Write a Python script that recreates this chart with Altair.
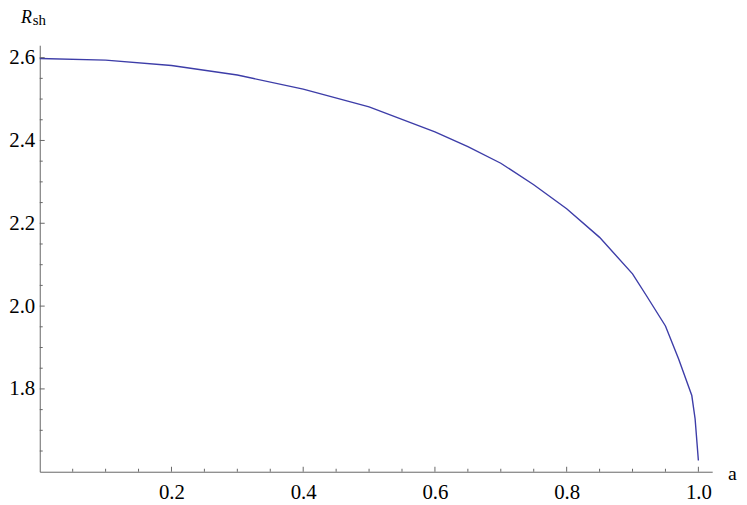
import altair as alt
import pandas as pd

# Curve data
a_vals = [0.0, 0.1, 0.2, 0.3, 0.4, 0.5, 0.6, 0.65, 0.7, 0.75, 0.8, 0.85, 0.9, 0.92, 0.95, 0.97, 0.99, 0.995, 1.0]
r_vals = [2.598, 2.594, 2.581, 2.558, 2.524, 2.481, 2.421, 2.385, 2.345, 2.293, 2.235, 2.166, 2.078, 2.028, 1.952, 1.872, 1.784, 1.728, 1.627]

# Axis ticks
x_major = [0.2, 0.4, 0.6, 0.8, 1.0]
x_minor = [0.05, 0.1, 0.15, 0.25, 0.3, 0.35, 0.45, 0.5, 0.55, 0.65, 0.7, 0.75, 0.85, 0.9, 0.95]
y_major = [1.8, 2.0, 2.2, 2.4, 2.6]
y_minor = [1.65, 1.7, 1.75, 1.85, 1.9, 1.95, 2.05, 2.1, 2.15, 2.25, 2.3, 2.35, 2.45, 2.5, 2.55]

X_DOMAIN = [0.0, 1.021]
Y_DOMAIN = [1.6, 2.63]
W = 678
H = 430

FONT = "Liberation Serif"
AXIS_COLOR = "#666666"
LINE_COLOR = "#3d3da8"

xs = alt.Scale(domain=X_DOMAIN, nice=False, zero=False)
ys = alt.Scale(domain=Y_DOMAIN, nice=False, zero=False)

curve_df = pd.DataFrame({"a": a_vals, "R": r_vals})

base_x_axis = alt.Axis(values=x_major, format=".1f", ticks=False, tickSize=0, grid=False,
                       domainColor=AXIS_COLOR, domainWidth=1, labelFont=FONT, labelFontSize=21,
                       labelColor="black", labelPadding=10, title=None)
base_y_axis = alt.Axis(values=y_major, format=".1f", ticks=False, tickSize=0, grid=False,
                       domainColor=AXIS_COLOR, domainWidth=1, labelFont=FONT, labelFontSize=21,
                       labelColor="black", labelPadding=5, title=None)

curve = alt.Chart(curve_df).mark_line(color=LINE_COLOR, strokeWidth=1.4, clip=False).encode(
    x=alt.X("a:Q", scale=xs, axis=base_x_axis),
    y=alt.Y("R:Q", scale=ys, axis=base_y_axis),
)

xmaj_df = pd.DataFrame({"v": x_major})
xmin_df = pd.DataFrame({"v": x_minor})
ymaj_df = pd.DataFrame({"v": y_major})
ymin_df = pd.DataFrame({"v": y_minor})

xt_major = alt.Chart(xmaj_df).mark_rule(color=AXIS_COLOR, strokeWidth=1).encode(
    x=alt.X("v:Q", scale=xs), y=alt.value(H), y2=alt.value(H - 5))
xt_minor = alt.Chart(xmin_df).mark_rule(color=AXIS_COLOR, strokeWidth=1).encode(
    x=alt.X("v:Q", scale=xs), y=alt.value(H), y2=alt.value(H - 3))
yt_major = alt.Chart(ymaj_df).mark_rule(color=AXIS_COLOR, strokeWidth=1).encode(
    y=alt.Y("v:Q", scale=ys), x=alt.value(0), x2=alt.value(5))
yt_minor = alt.Chart(ymin_df).mark_rule(color=AXIS_COLOR, strokeWidth=1).encode(
    y=alt.Y("v:Q", scale=ys), x=alt.value(0), x2=alt.value(3))

r_label = alt.Chart(pd.DataFrame({"t": ["R"]})).mark_text(
    font=FONT, fontSize=18, fontStyle="italic", align="left", baseline="alphabetic", color="black"
).encode(text="t:N", x=alt.value(-19), y=alt.value(-22.5))
sh_label = alt.Chart(pd.DataFrame({"t": ["sh"]})).mark_text(
    font=FONT, fontSize=15, align="left", baseline="alphabetic", color="black"
).encode(text="t:N", x=alt.value(-7), y=alt.value(-20.2))
a_label = alt.Chart(pd.DataFrame({"t": ["a"]})).mark_text(
    font=FONT, fontSize=20, align="left", baseline="alphabetic", color="black"
).encode(text="t:N", x=alt.value(694), y=alt.value(H + 8))

chart = alt.layer(
    curve, xt_major, xt_minor, yt_major, yt_minor, r_label, sh_label, a_label
).properties(
    width=W, height=H,
    autosize=alt.AutoSizeParams(type="none"),
    padding={"left": 32, "top": 35.5, "right": 27, "bottom": 30},
).configure(background="white").configure_view(stroke=None)

chart.save("out.html", embed_options={"renderer": "svg", "actions": False})
